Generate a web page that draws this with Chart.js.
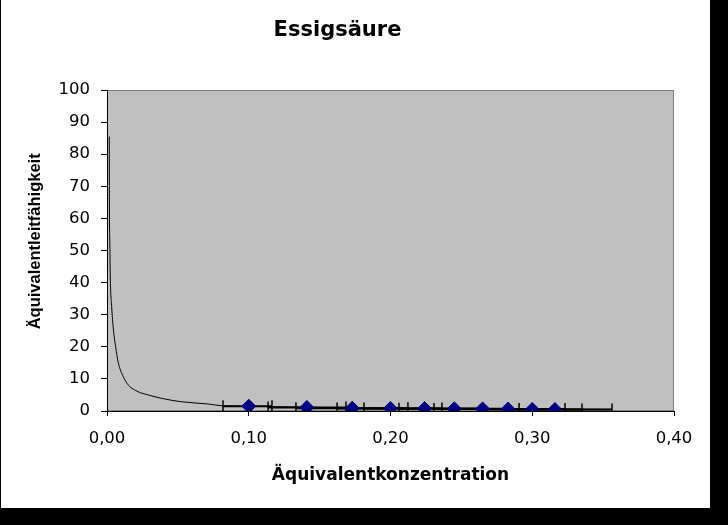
<!DOCTYPE html>
<html>
<head>
<meta charset="utf-8">
<script src="https://cdn.jsdelivr.net/npm/chart.js@4/dist/chart.umd.min.js"></script>
<style>
  body { margin: 0; background: #000; width: 728px; height: 525px; overflow: hidden; }
  #box { position: absolute; left: 1px; top: 0; width: 709px; height: 508px; background: #fff; }
  canvas { display: block; }
</style>
</head>
<body>
<div id="box"><canvas id="chart" width="709" height="508"></canvas></div>
<script>
// fitted curve
const curveX = [0.0016, 0.0017, 0.0020, 0.0023, 0.0033, 0.0045, 0.0061, 0.008, 0.0115, 0.015, 0.022, 0.029, 0.039, 0.052, 0.071, 0.082, 0.10, 0.15, 0.20, 0.25, 0.30, 0.355];
const curveY = [85.5, 65, 52, 42, 32.5, 25.5, 20, 15, 10.7, 8.1, 6.0, 5.0, 3.9, 2.9, 2.2, 1.6, 1.5, 1.1, 0.9, 0.75, 0.6, 0.5];

// measured points
const pointX = [0.100, 0.141, 0.173, 0.200, 0.224, 0.245, 0.265, 0.283, 0.300, 0.316];
const pointY = [1.5, 1.1, 0.85, 0.8, 0.75, 0.7, 0.65, 0.6, 0.5, 0.45];

// horizontal error bar ends
const errLow  = [0.0818, 0.1136, 0.1333, 0.1623, 0.1813, 0.2060, 0.2307, 0.2450, 0.2650, 0.2830];
const errHigh = [0.1164, 0.1686, 0.2123, 0.2363, 0.2650, 0.2830, 0.2907, 0.3231, 0.3351, 0.3563];

const xTicks = [0, 0.1, 0.2, 0.3, 0.4];

const plotBg = {
  id: "plotBg",
  beforeDraw(chart) {
    const { ctx, chartArea: a } = chart;
    ctx.save();
    ctx.fillStyle = "#c0c0c0";
    ctx.fillRect(a.left, a.top, a.right - a.left, a.bottom - a.top);
    ctx.strokeStyle = "#808080";
    ctx.lineWidth = 1;
    ctx.strokeRect(a.left + 0.5, a.top + 0.5, a.right - a.left - 1, a.bottom - a.top - 1);
    ctx.restore();
  },
};

const errorSets = pointX.map((x, i) => ({
  type: "line",
  data: [{ x: errLow[i], y: pointY[i] }, { x: errHigh[i], y: pointY[i] }],
  borderColor: "#000",
  borderWidth: 2,
  pointStyle: "line",
  rotation: 90,
  pointRadius: 6,
  pointBorderWidth: 1.5,
  pointBorderColor: "#000",
}));

new Chart(document.getElementById("chart"), {
  type: "scatter",
  data: {
    datasets: [
      {
        label: "Messwerte",
        data: pointX.map((x, i) => ({ x, y: pointY[i] })),
        pointStyle: "rectRot",
        pointRadius: 7,
        backgroundColor: "#000080",
        borderColor: "#000080",
        showLine: false,
      },
      ...errorSets,
      {
        type: "line",
        label: "Kurve",
        data: curveX.map((x, i) => ({ x, y: curveY[i] })),
        borderColor: "#000",
        borderWidth: 1,
        pointRadius: 0,
        cubicInterpolationMode: "monotone",
      },
    ],
  },
  options: {
    responsive: false,
    animation: false,
    layout: { padding: { left: 0, right: 36, top: 0, bottom: 0 } },
    plugins: {
      legend: { display: false },
      tooltip: { enabled: false },
      title: {
        display: true,
        text: "Essigsäure",
        color: "#000",
        font: { family: "DejaVu Sans", size: 21, weight: "bold" },
        padding: { top: 18, bottom: 46.8 },
      },
    },
    scales: {
      x: {
        type: "linear",
        min: 0,
        max: 0.4,
        afterFit(scale) { scale.height = 97; },
        afterBuildTicks(scale) { scale.ticks = xTicks.map((v) => ({ value: v })); },
        ticks: {
          color: "#000",
          padding: 13,
          font: { family: "DejaVu Sans", size: 16.5 },
          callback: (v) => v.toFixed(2).replace(".", ","),
        },
        grid: { drawOnChartArea: false, tickLength: 5, color: "#000" },
        border: { color: "#000" },
        title: {
          display: true,
          text: "Äquivalentkonzentration",
          color: "#000",
          font: { family: "DejaVu Sans", size: 17, weight: "bold" },
          padding: { top: 0, bottom: 22 },
        },
      },
      y: {
        min: 0,
        max: 100,
        afterFit(scale) { scale.width = 106; },
        ticks: {
          stepSize: 10,
          color: "#000",
          padding: 11,
          font: { family: "DejaVu Sans", size: 16.5 },
        },
        grid: { drawOnChartArea: false, tickLength: 6, color: "#000" },
        border: { color: "#000" },
        title: {
          display: true,
          text: "    Äquivalentleitfähigkeit",
          color: "#000",
          font: { family: "Liberation Sans", size: 16.5, weight: "bold" },
          padding: { top: 25, bottom: 0 },
        },
      },
    },
  },
  plugins: [plotBg],
});
</script>
</body>
</html>
